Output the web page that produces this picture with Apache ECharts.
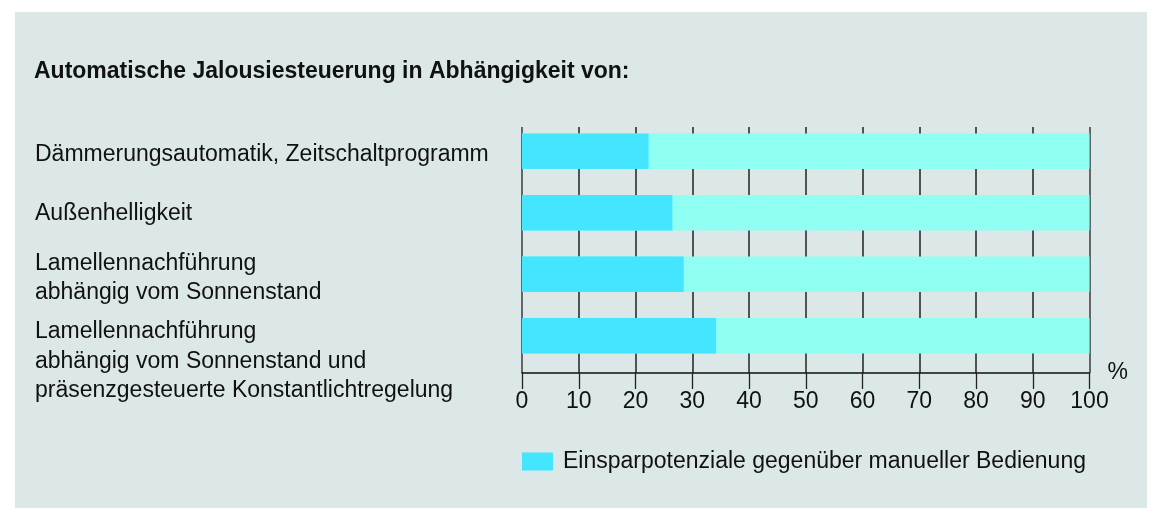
<!DOCTYPE html>
<html>
<head>
<meta charset="utf-8">
<script src="https://cdn.jsdelivr.net/npm/echarts@6/dist/echarts.min.js"></script>
<style>
    html, body { margin: 0; padding: 0; background: #fff; }
    #chart { width: 1151px; height: 511px; }
</style>
</head>
<body>
<div id="chart"></div>
<script>
const titleText = 'Automatische Jalousiesteuerung in Abhängigkeit von:';
const categories = [
    'Dämmerungsautomatik, Zeitschaltprogramm',
    'Außenhelligkeit',
    'Lamellennachführung\nabhängig vom Sonnenstand',
    'Lamellennachführung\nabhängig vom Sonnenstand und\npräsenzgesteuerte Konstantlichtregelung'
];
const seriesName = 'Einsparpotenziale gegenüber manueller Bedienung';
const savings = [22.3, 26.5, 28.5, 34.2];
const tickLabels = ['0', '10', '20', '30', '40', '50', '60', '70', '80', '90', '100'];

const fontFamily = '"Liberation Sans", Arial, sans-serif';
const myChart = echarts.init(document.getElementById('chart'), null, { renderer: 'canvas' });

// spacer line above each category label (pushes the text down a bit)
const labelSpacer = ['s0', 's1', 's2', 's3'];

const option = {
    animation: false,
    backgroundColor: '#ffffff',
    textStyle: { fontFamily: fontFamily },
    graphic: [{
        type: 'rect',
        z: -10,
        silent: true,
        shape: { x: 15, y: 12, width: 1132, height: 496 },
        style: { fill: '#dce7e7' }
    }],
    title: {
        text: titleText,
        left: 34,
        top: 60,
        padding: 0,
        textStyle: { fontFamily: fontFamily, fontSize: 23, fontWeight: 'bold', color: '#111' }
    },
    legend: {
        left: 522,
        top: 450,
        padding: 0,
        itemWidth: 31,
        itemHeight: 18,
        itemGap: 10,
        icon: 'rect',
        data: [seriesName],
        textStyle: { fontFamily: fontFamily, fontSize: 23, color: '#111', padding: [0, 0, 0, 5] }
    },
    grid: [
        // grid lines and value axis
        { left: 522, top: 127, width: 567.5, height: 246, outerBoundsMode: 'none', containLabel: false },
        // bars
        { left: 522, top: 120.5, width: 567.5, height: 246, outerBoundsMode: 'none', containLabel: false }
    ],
    xAxis: [
        {
            gridIndex: 0,
            type: 'value',
            min: 0,
            max: 100,
            interval: 10,
            name: '%',
            nameLocation: 'end',
            nameGap: 18,
            nameTextStyle: { fontFamily: fontFamily, fontSize: 23, color: '#111' },
            axisLine: { show: true, lineStyle: { color: '#111', width: 1.5 } },
            axisTick: { show: true, length: 16, lineStyle: { color: '#222', width: 1.3 } },
            axisLabel: {
                margin: 17,
                fontSize: 23,
                color: '#111',
                formatter: function (v) { return tickLabels[Math.round(v / 10)]; }
            },
            splitLine: {
                show: true,
                lineStyle: { color: ['#3c3c3c', '#222', '#222', '#222', '#222', '#222', '#222', '#222', '#222', '#222', '#3c3c3c'], width: 1.5 }
            }
        },
        {
            gridIndex: 1,
            type: 'value',
            min: 0,
            max: 100,
            show: false
        }
    ],
    yAxis: [
        { gridIndex: 0, type: 'value', show: false },
        {
            gridIndex: 1,
            type: 'category',
            inverse: true,
            data: categories,
            axisLine: { show: false },
            axisTick: { show: false },
            axisLabel: {
                interval: 0,
                hideOverlap: false,
                align: 'left',
                margin: 487,
                fontSize: 23,
                lineHeight: 29.5,
                color: '#111',
                formatter: function (value, index) {
                    return '{' + labelSpacer[index] + '| }\n' + value.split('\n').map(function (l) { return '{t|' + l + '}'; }).join('\n');
                },
                rich: {
                    s0: { fontSize: 23, lineHeight: 6, fontFamily: fontFamily, color: '#111' },
                    s1: { fontSize: 23, lineHeight: 2, fontFamily: fontFamily, color: '#111' },
                    s2: { fontSize: 23, lineHeight: 8, fontFamily: fontFamily, color: '#111' },
                    s3: { fontSize: 23, lineHeight: 51, fontFamily: fontFamily, color: '#111' },
                    t: { fontSize: 23, lineHeight: 29.5, fontFamily: fontFamily, color: '#111' }
                }
            }
        }
    ],
    series: [
        {
            name: seriesName,
            type: 'bar',
            xAxisIndex: 1,
            yAxisIndex: 1,
            data: savings,
            barWidth: 35.5,
            itemStyle: { color: '#43e5ff' },
            showBackground: true,
            backgroundStyle: { color: '#8efff2' }
        }
    ]
};

myChart.setOption(option);
</script>
</body>
</html>
